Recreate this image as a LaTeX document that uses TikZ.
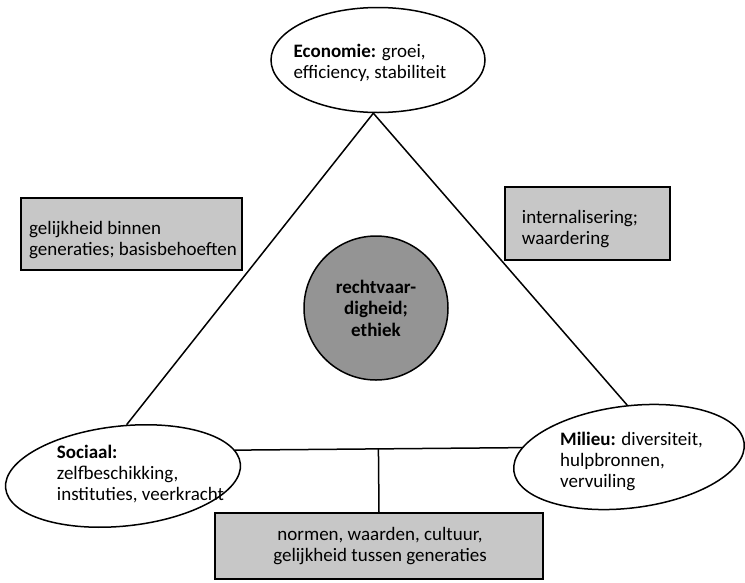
\documentclass[tikz,border=0pt]{standalone}
\usepackage{fontspec}
\setmainfont{Carlito}
\usepackage{tikz}
\usetikzlibrary{shapes.geometric,calc}

\begin{document}
\begin{tikzpicture}[x=1pt,y=-1pt,line width=1.5pt,
  font=\fontsize{19}{21}\selectfont,
  oval/.style={draw,ellipse,fill=white,inner sep=0pt},
  box/.style={draw,rectangle,fill=black!22,inner sep=0pt},
  disc/.style={draw,circle,fill=black!42,inner sep=0pt,minimum size=144pt,
    align=center,font=\fontsize{19}{21.5}\selectfont\bfseries},
  txt/.style={inner sep=0pt,align=left}]
\useasboundingbox (0,0) rectangle (745,582);
% ---- the three corners ----
\node[oval,minimum width=214pt,minimum height=105pt] (econ) at (378,60) {};
\node[oval,minimum width=236pt,minimum height=100pt,rotate=6] (soc) at (123,476) {};
\node[oval,minimum width=232pt,minimum height=102pt,rotate=7] (mil) at (629,457) {};
\node[txt] (econtxt) at (370,62.5) {\textbf{Economie:} groei,\\efficiency, stabiliteit};
\node[txt] (soctxt) at (140.5,474) {\textbf{Sociaal:}\\zelfbeschikking,\\instituties, veerkracht};
\node[txt] (miltxt) at (631.5,461) {\textbf{Milieu:} diversiteit,\\hulpbronnen,\\vervuiling};
% ---- centre and side boxes ----
\node[disc] (eth) at (376,308) {rechtvaar-\\digheid;\\ethiek};
\node[box,minimum width=221pt,minimum height=72pt] (boxL) at (131.5,234) {};
\node[box,minimum width=165pt,minimum height=73pt] (boxR) at (587.5,223.5) {};
\node[box,minimum width=328pt,minimum height=66pt] (boxB) at (379,546) {};
\node[txt] (boxLtxt) at (133,240) {gelijkheid binnen\\generaties; basisbehoeften};
\node[txt] (boxRtxt) at (580,229) {internalisering;\\waardering};
\node[txt,align=center] (boxBtxt) at (380,546) {normen, waarden, cultuur,\\gelijkheid tussen generaties};
% ---- triangle ----
\coordinate (apex) at (econ.265);
\draw (apex) -- (soc.80);
\draw (apex) -- (mil.85);
\draw (soc.7) -- (mil.168);
\coordinate (foot) at ($(soc.7)!(boxB.north)!(mil.168)$);
\draw (foot) -- (boxB.north);
\end{tikzpicture}
\end{document}
